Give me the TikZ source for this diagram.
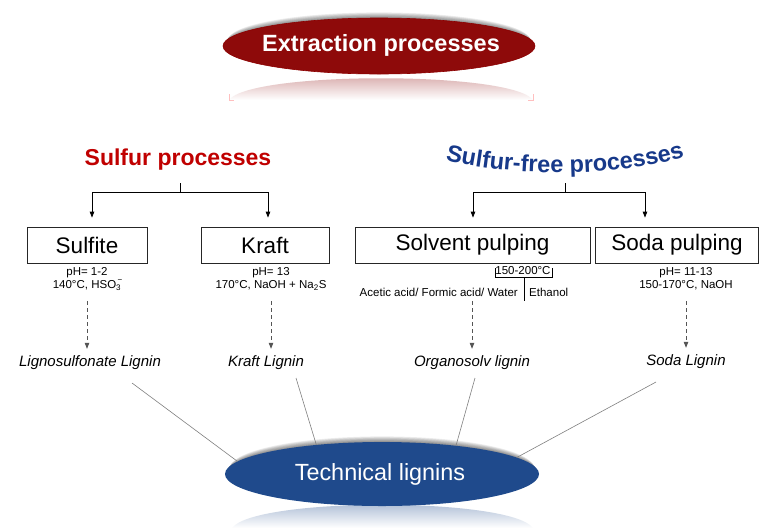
\documentclass[tikz,border=0pt]{standalone}
\usepackage{fontspec}
\setmainfont{Liberation Sans}
\usetikzlibrary{arrows.meta,decorations.text,shapes.geometric}
\definecolor{exred}{HTML}{8E0A0A}
\definecolor{sred}{HTML}{C00000}
\definecolor{sblue}{HTML}{17398A}
\definecolor{tblue}{HTML}{1F4A8C}
\definecolor{dgray}{HTML}{555555}
\begin{document}
\begin{tikzpicture}[x=1pt,y=-1pt,
  box/.style={draw=black!85, line width=0.8pt, rectangle, minimum height=36pt, inner sep=0pt, font=\fontsize{22.5}{24}\selectfont},
  cond/.style={align=center, font=\fontsize{11.5}{13}\selectfont, inner sep=0pt},
  lig/.style={font=\itshape\fontsize{15}{16}\selectfont, inner sep=0pt},
  arr/.style={-{Triangle[length=6pt,width=4.5pt]}, line width=0.8pt},
  darr/.style={dgray, -{Triangle[length=6pt,width=4.5pt]}, line width=0.8pt, dash pattern=on 4pt off 3pt},
  link/.style={gray, line width=0.6pt},
  thin/.style={line width=0.6pt}]
\fill[white] (0,0) rectangle (760,528);
\useasboundingbox (0,0) rectangle (760,528);

% top oval: reflection, shadow, body
\shade[top color=exred!40, bottom color=white] (229,100) .. controls (250,71) and (512,71) .. (533,100) -- cycle;
\draw[red!25, line width=0.6pt] (229,94) -- (229,100) -- (234,100);
\draw[red!25, line width=0.6pt] (528,100) -- (533,100) -- (533,94);
\foreach \k in {1,...,7}
  \fill[black, opacity=0.07] (379,46-\k*0.8) ellipse [x radius=155.5-\k*0.6, y radius=28];
\node[ellipse, fill=exred, draw=red!55!black, line width=0.6pt, minimum width=312pt, minimum height=56pt] (ext) at (379,46) {};
\node[text=white, font=\bfseries\fontsize{23.5}{25}\selectfont] (extlabel) at (381,45) {Extraction processes};

% headings
\node[text=sred, font=\bfseries\fontsize{23}{25}\selectfont] (sp) at (178,160) {Sulfur processes};
\path[decorate, decoration={text along path, text align=center,
  text={|\bfseries\fontsize{23.5}{25}\selectfont\color{sblue}|Sulfur-free processes}}]
  (436,158) .. controls (505,178) and (625,178) .. (694,154);
\coordinate (sft) at (565,183);

% boxes
\node[box, minimum width=120pt] (sulfite) at (87,245) {Sulfite};
\node[box, minimum width=128pt] (kraft) at (265,245) {Kraft};
\node[box, minimum width=235pt] (solvent) at (472.5,245) {Solvent pulping};
\node[box, minimum width=163pt] (soda) at (677,245) {Soda pulping};

% tree connectors
\coordinate (spt) at (180,183);
\coordinate (spb) at (180,192);
\draw[thin] (spt) -- (spb);
\draw[arr, shorten >=9pt] (spb) -| ([xshift=5pt]sulfite.north);
\draw[arr, shorten >=9pt] (spb) -| ([xshift=3pt]kraft.north);
\coordinate (sfb) at (565,192);
\draw[thin] (sft) -- (sfb);
\draw[arr, shorten >=9pt] (sfb) -| ([xshift=0.5pt]solvent.north);
\draw[arr, shorten >=9pt] (sfb) -| ([xshift=-32pt]soda.north);

% conditions
\node[cond] (c1) at (87,279) {pH= 1-2\\140°C, HSO\rlap{\raisebox{1.5pt}{\textsuperscript{\,−}}}\textsubscript{3}};
\node[cond] (c2) at (271,279) {pH= 13\\170°C, NaOH + Na\textsubscript{2}S};
\node[cond] (c4) at (686,279) {pH= 11-13\\150-170°C, NaOH};
\node[cond] (ctemp) at (523,270.5) {150-200°C};
\node[cond, anchor=east] (cacid) at (518,292) {Acetic acid/ Formic acid/ Water};
\node[cond, anchor=west] (ceth) at (529,292) {Ethanol};
\coordinate (bl) at (495,268);
\coordinate (br) at (552,268);
\coordinate (bm) at (524,277);
\coordinate (bb) at (524,301);
\draw[thin] (bl) -- (bl |- bm) -- (br |- bm) -- (br);
\draw[thin] (bm) -- (bb);

% lignin labels
\node[lig] (l1) at (90,363) {Lignosulfonate Lignin};
\node[lig] (l2) at (266,363) {Kraft Lignin};
\node[lig] (l3) at (472,363) {Organosolv lignin};
\node[lig] (l4) at (686,362) {Soda Lignin};

% dashed arrows
\coordinate (d1) at (87,301);
\coordinate (d2) at (271,301);
\coordinate (d3) at (472,301);
\coordinate (d4) at (686,301);
\draw[darr, shorten >=7pt] (d1) -- (d1 |- l1.north);
\draw[darr, shorten >=7pt] (d2) -- (d2 |- l2.north);
\draw[darr, shorten >=7pt] (d3) -- (d3 |- l3.north);
\draw[darr, shorten >=7pt] (d4) -- (d4 |- l4.north);

% links
\coordinate (a1) at (132,383);
\coordinate (a2) at (296,378);
\coordinate (a3) at (475,378);
\coordinate (a4) at (656,382);

% bottom oval: reflection, shadow, body
\shade[top color=tblue!45, bottom color=white] (232,528) .. controls (255,497) and (510,497) .. (533,528) -- cycle;
\foreach \k in {1,...,7}
  \fill[black, opacity=0.07] (382,474-\k*0.8) ellipse [x radius=156.5-\k*0.6, y radius=32];
\node[ellipse, fill=tblue, minimum width=314pt, minimum height=64pt] (tl) at (382,474) {};
\node[text=white, font=\fontsize{23.4}{25}\selectfont] (tllabel) at (380,474) {Technical lignins};

\draw[link] (a1) -- (tl.175);
\draw[link] (a2) -- (tl.156);
\draw[link] (a3) -- (tl.21);
\draw[link] (a4) -- (tl.7);
\end{tikzpicture}
\end{document}
